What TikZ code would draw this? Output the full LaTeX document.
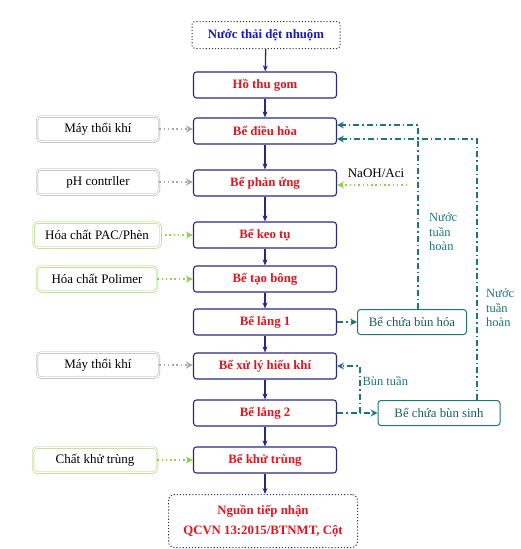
\documentclass[tikz,border=0pt]{standalone}
\usepackage{fontspec}
\setmainfont{Liberation Serif}
\usetikzlibrary{arrows.meta}
\definecolor{navyc}{RGB}{40,40,130}
\definecolor{tealc}{RGB}{30,118,118}
\definecolor{lgreen}{RGB}{146,208,80}
\definecolor{redt}{RGB}{228,20,30}
\definecolor{bluet}{RGB}{25,25,190}
\tikzset{
  mainbox/.style={draw=navyc,line width=1.1pt,rounded corners=3pt,minimum width=143pt,minimum height=26pt,font=\bfseries\fontsize{12.8}{15}\selectfont,text=redt},
  greybox/.style={draw=gray!75,double=white,double distance=1.2pt,rounded corners=4pt,minimum width=122pt,minimum height=25pt,font=\fontsize{13}{15}\selectfont},
  greenbox/.style={greybox,draw=lgreen},
  tealbox/.style={draw=tealc,line width=1pt,rounded corners=3pt,minimum height=25pt,font=\fontsize{12.8}{15}\selectfont,text=tealc!80!black},
  tlabel/.style={text=tealc,font=\fontsize{12.5}{14.5}\selectfont,align=left},
  flow/.style={navyc,line width=1.3pt,-{Stealth[length=6pt,width=5pt]}},
  feedgrey/.style={gray!70,line width=1.5pt,dash pattern=on 1.5pt off 2.8pt,-{Stealth[open,length=7pt,width=7pt]}},
  feedgreen/.style={feedgrey,lgreen},
  recyc/.style={tealc,line width=1.1pt,dash pattern=on 6pt off 3pt on 1.5pt off 3pt,-{Stealth[length=7pt,width=7pt,inset=2.5pt]}}
}
\begin{document}
\begin{tikzpicture}[x=1pt,y=-1pt]
\useasboundingbox (0,0) rectangle (521,549);
% main line
\node[mainbox,draw=gray!40!black,dotted,line width=1pt,minimum width=148pt,minimum height=27pt,text=bluet] (nuoc) at (266,35) {Nước thải dệt nhuộm};
\node[mainbox] (ho) at (265,85) {Hồ thu gom};
\node[mainbox] (dieuhoa) at (265,131) {Bể điều hòa};
\node[mainbox] (phanung) at (265,183) {Bể phản ứng};
\node[mainbox] (keotu) at (265,235) {Bể keo tụ};
\node[mainbox] (taobong) at (265,279) {Bể tạo bông};
\node[mainbox] (lang1) at (265,322) {Bể lắng 1};
\node[mainbox] (xuly) at (265,366) {Bể xử lý hiếu khí};
\node[mainbox] (lang2) at (265,413) {Bể lắng 2};
\node[mainbox] (khutrung) at (265,460) {Bể khử trùng};
\node[mainbox,dotted,line width=1pt,rounded corners=6pt,minimum width=189pt,minimum height=53pt,align=center] (nguon) at (263,521) {Nguồn tiếp nhận\\[5pt]QCVN 13:2015/BTNMT, Cột};
\foreach \a/\b in {nuoc/ho,ho/dieuhoa,dieuhoa/phanung,phanung/keotu,keotu/taobong,taobong/lang1,lang1/xuly,xuly/lang2,lang2/khutrung}
  \draw[flow] (\a) -- (\b);
\draw[flow] (khutrung) -- (khutrung.south |- nguon.north);
% side inputs
\node[greybox] (may1) at (98,129) {Máy thổi khí};
\node[greybox] (ph) at (98,182) {pH contrller};
\node[greenbox,minimum width=127pt] (pac) at (97,235) {Hóa chất PAC/Phèn};
\node[greenbox,minimum width=120pt] (poli) at (97,279) {Hóa chất Polimer};
\node[greybox] (may2) at (98,365) {Máy thổi khí};
\node[greenbox,minimum width=124pt] (chat) at (95,460) {Chất khử trùng};
\draw[feedgrey] (may1) -- (may1 -| dieuhoa.west);
\draw[feedgrey] (ph) -- (ph -| phanung.west);
\draw[feedgreen] (pac) -- (pac -| keotu.west);
\draw[feedgreen] (poli) -- (poli -| taobong.west);
\draw[feedgrey] (may2) -- (may2 -| xuly.west);
\draw[feedgreen] (chat) -- (chat -| khutrung.west);
% NaOH
\node[font=\fontsize{13}{15}\selectfont] (naohl) at (376,173) {NaOH/Aci};
\coordinate (naoh) at (407,185);
\draw[feedgreen] (naoh) -- (phanung.east |- naoh);
% sludge
\node[tealbox,minimum width=109pt] (bunhoa) at (412,322) {Bể chứa bùn hóa};
\node[tealbox,minimum width=122pt] (bunsinh) at (439,413) {Bể chứa bùn sinh};
\draw[recyc] (lang1) -- (bunhoa);
\draw[recyc] (lang2) -- (bunsinh);
\coordinate (j) at (360,413);
\draw[recyc] (j) |- (xuly.east);
\node[tlabel,anchor=west] (buntuan) at (359,381) {Bùn tuần};
% recirculated water
\coordinate (r1) at (418,125);
\coordinate (r2) at (477,139);
\draw[recyc] (bunhoa.north -| r1) |- (dieuhoa.east |- r1);
\draw[recyc] (bunsinh.north -| r2) |- (dieuhoa.east |- r2);
\node[tlabel,anchor=north west,inner sep=1pt] (nth1) at (428,212) {Nước\\tuần\\hoàn};
\node[tlabel,anchor=north west,inner sep=1pt] (nth2) at (485,288) {Nước\\tuần\\hoàn};
\end{tikzpicture}
\end{document}
